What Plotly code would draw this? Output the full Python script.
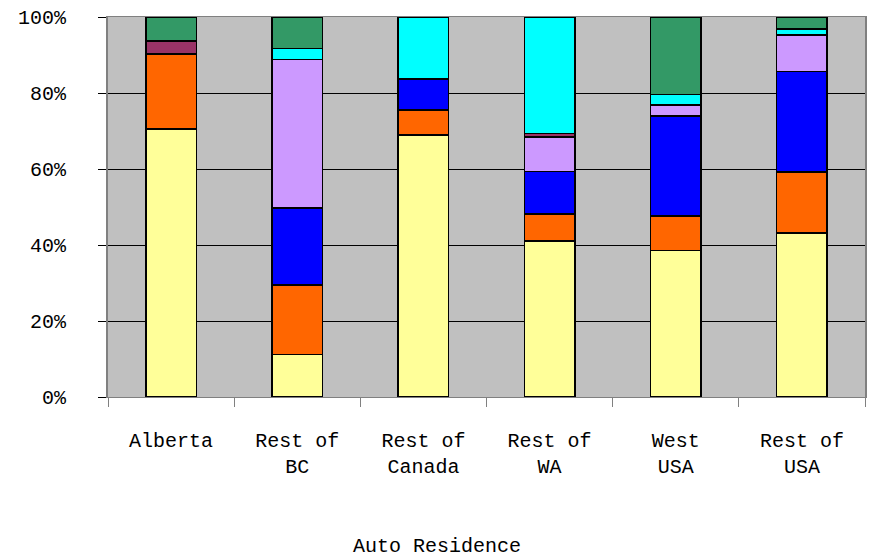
import plotly.graph_objects as go

categories = ["Alberta", "Rest of<br>BC", "Rest of<br>Canada", "Rest of<br>WA", "West<br>USA", "Rest of<br>USA"]

series_names = ["S1", "S2", "S3", "S4", "S5", "S6", "S7"]
s1 = [70.5, 11.2, 68.9, 41.1, 38.5, 43.2]
s2 = [19.7, 18.3, 6.6, 7.1, 9.1, 16.0]
s3 = [0.0, 20.2, 8.2, 11.1, 26.4, 26.5]
s4 = [0.0, 39.1, 0.0, 9.1, 2.8, 9.6]
s5 = [3.5, 0.0, 0.0, 1.0, 0.0, 0.0]
s6 = [0.0, 2.9, 16.3, 30.6, 2.8, 1.5]
s7 = [6.3, 8.3, 0.0, 0.0, 20.4, 3.2]
series_values = [s1, s2, s3, s4, s5, s6, s7]
series_colors = ["#FFFF99", "#FF6600", "#0000FF", "#CC99FF", "#993366", "#00FFFF", "#339966"]

y_tick_vals = [0, 20, 40, 60, 80, 100]
y_tick_text = ["0%", "20%", "40%", "60%", "80%", "100%"]
x_title = "Auto Residence"

FONT = "Liberation Mono, DejaVu Sans Mono, monospace"

fig = go.Figure()
for name, vals, col in zip(series_names, series_values, series_colors):
    fig.add_trace(go.Bar(
        x=categories, y=vals, name=name,
        marker=dict(color=col, line=dict(color="#000000", width=1.5)),
        hoverinfo="skip",
    ))

fig.update_layout(
    width=872, height=560,
    barmode="stack", bargap=0.6,
    showlegend=False,
    paper_bgcolor="white", plot_bgcolor="#C0C0C0",
    margin=dict(l=108, r=5, t=17, b=163),
    font=dict(family=FONT, color="#000000"),
    annotations=[dict(
        text=x_title, xref="paper", yref="paper",
        x=(438 - 108) / (867 - 108), y=-(546 - 397) / (397 - 17),
        xanchor="center", yanchor="middle", showarrow=False,
        font=dict(family=FONT, size=20, color="#000000"),
    )],
)

fig.update_xaxes(
    type="category",
    tickson="boundaries", ticks="outside", ticklen=9, tickcolor="#808080", tickwidth=1,
    showline=True, linecolor="#808080", linewidth=1, mirror=True,
    showgrid=False,
    tickfont=dict(family=FONT, size=20, color="#000000"),
    ticklabelstandoff=25,
)
fig.update_yaxes(
    range=[0, 100], tickvals=y_tick_vals, ticktext=y_tick_text,
    ticks="outside", ticklen=8, tickcolor="#000000", tickwidth=1,
    showline=True, linecolor="#808080", linewidth=2, mirror=True,
    showgrid=True, gridcolor="#000000", gridwidth=1,
    zeroline=False,
    tickfont=dict(family=FONT, size=20, color="#000000"),
    ticklabelstandoff=28,
)

fig.write_html(
    "out.html",
    config={"displayModeBar": False},
    post_script="document.body.style.margin='0';document.body.style.overflow='hidden';",
)
